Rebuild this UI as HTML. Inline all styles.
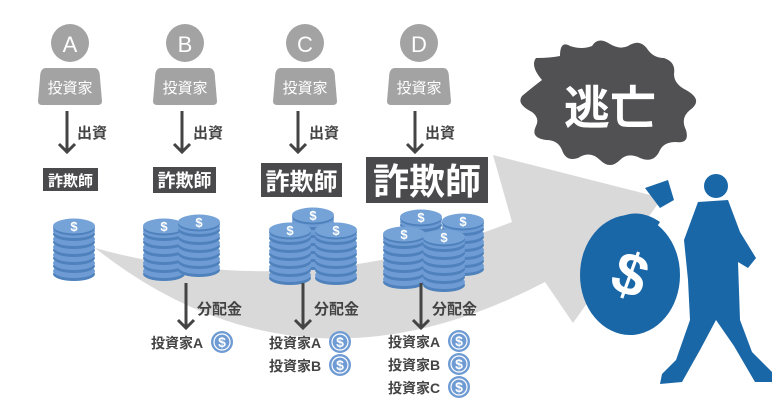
<!DOCTYPE html>
<html><head><meta charset="utf-8"><style>
body{margin:0;background:#fff}
svg{display:block}
text{font-family:"Liberation Sans","Noto Sans CJK JP",sans-serif}
</style></head><body>
<svg width="780" height="410" viewBox="0 0 780 410" xmlns="http://www.w3.org/2000/svg">
<defs>
<g id="coin">
<ellipse cx="0" cy="0" rx="21" ry="7" fill="#4f82bd"/>
<ellipse cx="0" cy="-3" rx="21" ry="7" fill="#6e9bd3"/>
</g>
<g id="topcoin">
<ellipse cx="0" cy="2" rx="21" ry="7.5" fill="#4f82bd"/>
<ellipse cx="0" cy="0" rx="21" ry="7.5" fill="#75a3d8"/>
<text x="0" y="5" font-size="13" font-weight="bold" fill="#fff" text-anchor="middle">$</text>
</g>
<g id="stack4">
<use href="#coin" y="48"/><use href="#coin" y="40"/><use href="#coin" y="32"/><use href="#coin" y="24"/><use href="#coin" y="16"/><use href="#coin" y="8"/><use href="#topcoin" y="0"/>
</g>
<g id="ic">
<circle r="11" fill="#6e9bd3"/><circle r="8" fill="none" stroke="#fff" stroke-width="1.2"/>
<text y="5" font-size="14" font-weight="bold" fill="#fff" text-anchor="middle">$</text>
</g>
<g id="person">
<circle cx="0" cy="0" r="19" fill="#a3a3a3"/>
<path d="M-24,25 H24 Q30,25 30,35 L32,58 Q32,62 28,62 H-28 Q-32,62 -32,58 L-30,35 Q-30,25 -24,25Z" fill="#a3a3a3"/>
</g>
</defs>

<!-- big gray arrow -->
<path d="M95,248 Q300,305 512,222 L493,155 L662,198 L573,323 L545,282 Q300,410 95,248Z" fill="#d9d9d9"/>

<!-- persons -->
<g fill="#fff" font-size="15" text-anchor="middle">
<use href="#person" x="70" y="43"/><text x="70" y="52" font-size="22" fill="#fff">A</text><text x="70" y="93">投資家</text>
<use href="#person" x="185" y="43"/><text x="185" y="52" font-size="22" fill="#fff">B</text><text x="185" y="93">投資家</text>
<use href="#person" x="305" y="43"/><text x="305" y="52" font-size="22" fill="#fff">C</text><text x="305" y="93">投資家</text>
<use href="#person" x="419" y="43"/><text x="419" y="52" font-size="22" fill="#fff">D</text><text x="419" y="93">投資家</text>
</g>

<!-- funding arrows -->
<g stroke="#444" stroke-width="3">
<line x1="67" y1="111" x2="67" y2="152"/><path d="M59,144 L67,152 L75,144" fill="none"/>
<line x1="182" y1="111" x2="182" y2="152"/><path d="M174,144 L182,152 L190,144" fill="none"/>
<line x1="298" y1="111" x2="298" y2="152"/><path d="M290,144 L298,152 L306,144" fill="none"/>
<line x1="415" y1="111" x2="415" y2="152"/><path d="M407,144 L415,152 L423,144" fill="none"/>
</g>
<g font-size="15" font-weight="bold" fill="#444">
<text x="77" y="138">出資</text><text x="193" y="138">出資</text><text x="309" y="138">出資</text><text x="425" y="138">出資</text>
</g>

<!-- fraudster boxes -->
<rect x="43" y="168" width="55" height="23" fill="#4a4a4c"/>
<text x="70.5" y="186" font-size="15" font-weight="bold" fill="#fff" text-anchor="middle">詐欺師</text>
<rect x="153" y="167" width="63" height="26" fill="#4a4a4c"/>
<text x="184.5" y="187" font-size="18" font-weight="bold" fill="#fff" text-anchor="middle">詐欺師</text>
<rect x="261" y="163" width="81" height="34" fill="#4a4a4c"/>
<text x="301.5" y="190" font-size="24" font-weight="bold" fill="#fff" text-anchor="middle">詐欺師</text>
<rect x="366" y="157" width="122" height="46" fill="#4a4a4c"/>
<text x="427" y="194" font-size="36" font-weight="bold" fill="#fff" text-anchor="middle">詐欺師</text>

<!-- coin stacks -->
<use href="#stack4" x="74" y="226"/>
<use href="#stack4" x="164" y="226"/><use href="#stack4" x="199" y="222"/>
<use href="#stack4" x="313" y="215"/><use href="#stack4" x="290" y="230"/><use href="#stack4" x="336" y="230"/>
<use href="#stack4" x="421" y="217"/><use href="#stack4" x="463" y="221"/><use href="#stack4" x="404" y="234"/><use href="#stack4" x="444" y="237"/>

<!-- distribution arrows -->
<g stroke="#444" stroke-width="3">
<line x1="186" y1="283" x2="186" y2="328"/><path d="M178,320 L186,328 L194,320" fill="none"/>
<line x1="303" y1="283" x2="303" y2="328"/><path d="M295,320 L303,328 L311,320" fill="none"/>
<line x1="421" y1="283" x2="421" y2="328"/><path d="M413,320 L421,328 L429,320" fill="none"/>
</g>
<g font-size="15" font-weight="bold" fill="#444">
<text x="197" y="314">分配金</text><text x="314" y="314">分配金</text><text x="432" y="314">分配金</text>
</g>
<g font-size="14" font-weight="bold" fill="#444">
<text x="151" y="348">投資家A</text>
<text x="269" y="348">投資家A</text><text x="269" y="371">投資家B</text>
<text x="388" y="347">投資家A</text><text x="388" y="370">投資家B</text><text x="388" y="393">投資家C</text>
</g>
<use href="#ic" x="222" y="342"/>
<use href="#ic" x="340" y="342"/><use href="#ic" x="340" y="365"/>
<use href="#ic" x="459" y="341"/><use href="#ic" x="459" y="364"/><use href="#ic" x="459" y="387"/>

<!-- burst -->
<path d="M522,96 Q534,86 542,80 Q530,66 536,58 Q550,58 560,56 Q560,40 570,46 Q582,50 592,46 Q598,36 610,44 Q620,50 628,46 Q640,38 648,50 Q654,58 664,58 Q676,62 674,74 Q674,84 686,90 Q704,100 690,110 Q680,118 686,130 Q690,144 676,142 Q664,142 660,150 Q654,164 640,158 Q628,152 620,160 Q610,170 600,160 Q590,150 578,158 Q566,162 562,150 Q558,140 546,140 Q530,138 536,126 Q540,118 532,112 Q516,104 522,96Z" fill="#515153"/>
<text x="610" y="124" font-size="46" font-weight="bold" fill="#fff" text-anchor="middle">逃亡</text>

<!-- man with bag -->
<g fill="#1a67a8">
<ellipse cx="630" cy="275" rx="50" ry="60"/>
<path d="M612,222 Q635,205 660,222 L652,234 Q635,226 618,236Z"/>
<path d="M645,188 L668,180 L674,200 L660,208Z"/>
<circle cx="716" cy="186" r="12"/>
<path d="M698,202 L728,200 L740,232 L756,258 L748,268 L738,262 L740,320 L752,352 L772,372 L772,382 L755,382 L734,346 L716,320 L700,350 L682,382 L660,384 L662,374 L676,360 L690,320 L688,280 L684,240Z"/>
</g>
<text x="630" y="295" font-size="60" font-weight="bold" fill="#fff" text-anchor="middle" transform="rotate(20 630 275)">$</text>
</svg>
</body></html>
